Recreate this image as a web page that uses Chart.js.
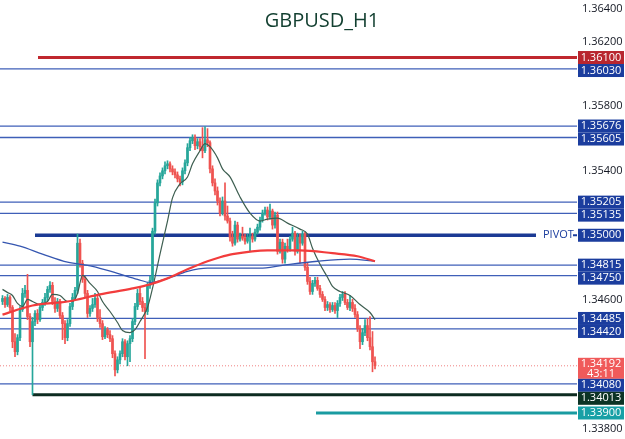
<!DOCTYPE html>
<html>
<head>
<meta charset="utf-8">
<script src="https://cdn.jsdelivr.net/npm/chart.js@4.4.1/dist/chart.umd.min.js"></script>
<style>
  html, body { margin: 0; padding: 0; background: #fff; }
  #wrap { width: 625px; height: 439px; position: relative; }
</style>
</head>
<body>
<div id="wrap"><canvas id="chart"></canvas></div>
<script>
// --- свічки GBPUSD H1 ---
const opens = [
  1.34590, 1.34609, 1.34571, 1.34615, 1.34553, 1.34341, 1.34279, 1.34366, 1.34540, 1.34640,
  1.34659, 1.34497, 1.34341, 1.34466, 1.34516, 1.34478, 1.34553, 1.34584, 1.34615, 1.34665,
  1.34690, 1.34590, 1.34547, 1.34590, 1.34503, 1.34453, 1.34366, 1.34453, 1.34559, 1.34615,
  1.34659, 1.34951, 1.34827, 1.34727, 1.34640, 1.34516, 1.34547, 1.34571, 1.34609, 1.34491,
  1.34453, 1.34372, 1.34416, 1.34385, 1.34360, 1.34267, 1.34167, 1.34229, 1.34267, 1.34341,
  1.34248, 1.34329, 1.34360, 1.34466, 1.34559, 1.34640, 1.34590, 1.34553, 1.34528, 1.34690,
  1.34721, 1.35025, 1.35200, 1.35324, 1.35367, 1.35399, 1.35430, 1.35442, 1.35411, 1.35392,
  1.35374, 1.35349, 1.35330, 1.35399, 1.35448, 1.35542, 1.35585, 1.35604, 1.35554, 1.35579,
  1.35548, 1.35523, 1.35591, 1.35573, 1.35411, 1.35324, 1.35274, 1.35212, 1.35137, 1.35212,
  1.35119, 1.35088, 1.34988, 1.34951, 1.35063, 1.34976, 1.34994, 1.34982, 1.34963, 1.34988,
  1.34994, 1.34976, 1.35019, 1.35050, 1.35094, 1.35137, 1.35156, 1.35113, 1.35150, 1.35063,
  1.35125, 1.34901, 1.34957, 1.34852, 1.34932, 1.34914, 1.34976, 1.35013, 1.34901, 1.34988,
  1.34951, 1.35007, 1.34802, 1.34714, 1.34652, 1.34702, 1.34721, 1.34671, 1.34634, 1.34603,
  1.34553, 1.34571, 1.34540, 1.34565, 1.34534, 1.34578, 1.34615, 1.34634, 1.34584, 1.34553,
  1.34584, 1.34547, 1.34509, 1.34422, 1.34341, 1.34397, 1.34441, 1.34366, 1.34310, 1.34217
];
const highs = [
  1.34627, 1.34621, 1.34634, 1.34627, 1.34565, 1.34391, 1.34385, 1.34559, 1.34671, 1.34690,
  1.34758, 1.34516, 1.34491, 1.34534, 1.34540, 1.34571, 1.34603, 1.34640, 1.34683, 1.34714,
  1.34708, 1.34615, 1.34609, 1.34603, 1.34522, 1.34472, 1.34478, 1.34578, 1.34640, 1.34677,
  1.35007, 1.34976, 1.34845, 1.34746, 1.34659, 1.34565, 1.34609, 1.34640, 1.34627, 1.34540,
  1.34472, 1.34435, 1.34429, 1.34410, 1.34379, 1.34285, 1.34248, 1.34285, 1.34360, 1.34354,
  1.34347, 1.34379, 1.34485, 1.34578, 1.34665, 1.34683, 1.34615, 1.34578, 1.34708, 1.34746,
  1.35044, 1.35224, 1.35343, 1.35386, 1.35417, 1.35454, 1.35461, 1.35454, 1.35430, 1.35411,
  1.35392, 1.35367, 1.35417, 1.35467, 1.35567, 1.35604, 1.35622, 1.35622, 1.35598, 1.35598,
  1.35666, 1.35672, 1.35660, 1.35585, 1.35430, 1.35349, 1.35299, 1.35231, 1.35237, 1.35324,
  1.35181, 1.35106, 1.35025, 1.35088, 1.35081, 1.35013, 1.35050, 1.35007, 1.35007, 1.35044,
  1.35013, 1.35038, 1.35069, 1.35113, 1.35156, 1.35175, 1.35175, 1.35193, 1.35162, 1.35144,
  1.35144, 1.34976, 1.34976, 1.34951, 1.34976, 1.34994, 1.35050, 1.35025, 1.35013, 1.35007,
  1.35025, 1.35019, 1.34827, 1.34740, 1.34721, 1.34740, 1.34740, 1.34690, 1.34652, 1.34621,
  1.34590, 1.34584, 1.34584, 1.34584, 1.34596, 1.34634, 1.34652, 1.34652, 1.34603, 1.34627,
  1.34603, 1.34571, 1.34528, 1.34441, 1.34422, 1.34478, 1.34485, 1.34497, 1.34404, 1.34248
];
const lows = [
  1.34571, 1.34553, 1.34559, 1.34534, 1.34304, 1.34248, 1.34260, 1.34347, 1.34528, 1.34615,
  1.34478, 1.34310, 1.34013, 1.34441, 1.34453, 1.34466, 1.34534, 1.34565, 1.34596, 1.34646,
  1.34571, 1.34522, 1.34528, 1.34485, 1.34354, 1.34329, 1.34347, 1.34435, 1.34540, 1.34596,
  1.34640, 1.34802, 1.34708, 1.34615, 1.34491, 1.34497, 1.34528, 1.34553, 1.34466, 1.34429,
  1.34354, 1.34360, 1.34366, 1.34341, 1.34242, 1.34130, 1.34148, 1.34204, 1.34248, 1.34229,
  1.34192, 1.34217, 1.34341, 1.34447, 1.34540, 1.34571, 1.34528, 1.34236, 1.34509, 1.34671,
  1.34702, 1.35007, 1.35181, 1.35305, 1.35349, 1.35380, 1.35411, 1.35392, 1.35374, 1.35355,
  1.35330, 1.35305, 1.35312, 1.35380, 1.35430, 1.35523, 1.35567, 1.35529, 1.35535, 1.35523,
  1.35479, 1.35511, 1.35548, 1.35386, 1.35305, 1.35249, 1.35187, 1.35119, 1.35125, 1.35094,
  1.35075, 1.34963, 1.34932, 1.34938, 1.34957, 1.34963, 1.34969, 1.34945, 1.34951, 1.34901,
  1.34957, 1.34963, 1.35007, 1.35032, 1.35081, 1.35125, 1.35094, 1.35100, 1.35038, 1.35044,
  1.34883, 1.34889, 1.34827, 1.34827, 1.34895, 1.34901, 1.34963, 1.34876, 1.34889, 1.34827,
  1.34938, 1.34783, 1.34696, 1.34634, 1.34634, 1.34683, 1.34659, 1.34615, 1.34590, 1.34534,
  1.34534, 1.34522, 1.34528, 1.34516, 1.34491, 1.34559, 1.34596, 1.34571, 1.34540, 1.34534,
  1.34528, 1.34491, 1.34404, 1.34298, 1.34323, 1.34379, 1.34347, 1.34291, 1.34155, 1.34173
];
const closes = [
  1.34609, 1.34571, 1.34615, 1.34553, 1.34341, 1.34279, 1.34366, 1.34540, 1.34640, 1.34659,
  1.34497, 1.34341, 1.34466, 1.34516, 1.34478, 1.34553, 1.34584, 1.34615, 1.34665, 1.34690,
  1.34590, 1.34547, 1.34590, 1.34503, 1.34453, 1.34366, 1.34453, 1.34559, 1.34615, 1.34659,
  1.34951, 1.34827, 1.34727, 1.34640, 1.34516, 1.34547, 1.34571, 1.34609, 1.34491, 1.34453,
  1.34372, 1.34416, 1.34385, 1.34360, 1.34267, 1.34167, 1.34229, 1.34267, 1.34341, 1.34248,
  1.34329, 1.34360, 1.34466, 1.34559, 1.34640, 1.34590, 1.34553, 1.34528, 1.34690, 1.34721,
  1.35025, 1.35200, 1.35324, 1.35367, 1.35399, 1.35430, 1.35442, 1.35411, 1.35392, 1.35374,
  1.35349, 1.35330, 1.35399, 1.35448, 1.35542, 1.35585, 1.35604, 1.35554, 1.35579, 1.35548,
  1.35523, 1.35591, 1.35573, 1.35411, 1.35324, 1.35274, 1.35212, 1.35137, 1.35212, 1.35119,
  1.35088, 1.34988, 1.34951, 1.35063, 1.34976, 1.34994, 1.34982, 1.34963, 1.34988, 1.34994,
  1.34976, 1.35019, 1.35050, 1.35094, 1.35137, 1.35156, 1.35113, 1.35150, 1.35063, 1.35125,
  1.34901, 1.34957, 1.34852, 1.34932, 1.34914, 1.34976, 1.35013, 1.34901, 1.34988, 1.34951,
  1.35007, 1.34802, 1.34714, 1.34652, 1.34702, 1.34721, 1.34671, 1.34634, 1.34603, 1.34553,
  1.34571, 1.34540, 1.34565, 1.34534, 1.34578, 1.34615, 1.34634, 1.34584, 1.34553, 1.34584,
  1.34547, 1.34509, 1.34422, 1.34341, 1.34397, 1.34441, 1.34366, 1.34310, 1.34217, 1.34192
];

// --- ковзні середні (точки за номером свічки) ---
const fastMaIdx = [0, 2, 4, 6, 8, 10, 12, 15, 18, 20, 23, 26, 28, 30, 32, 35, 38, 40, 43, 46, 48, 51, 53, 55, 58, 60,
  63, 66, 68, 71, 74, 76, 79, 81, 83, 86, 88, 91, 95, 99, 103, 106, 110, 114, 119, 122, 124, 127, 130, 132, 135, 139, 143, 147, 149];
const fastMaVal = [1.34665, 1.34646, 1.34627, 1.34578, 1.34559, 1.34603, 1.34590, 1.34571, 1.34590, 1.34634, 1.34627,
  1.34590, 1.34590, 1.34640, 1.34752, 1.34702, 1.34652, 1.34590, 1.34528, 1.34460, 1.34410, 1.34397, 1.34416, 1.34466,
  1.34553, 1.34671, 1.34883, 1.35088, 1.35231, 1.35318, 1.35361, 1.35442, 1.35523, 1.35567, 1.35548, 1.35479, 1.35411,
  1.35361, 1.35237, 1.35137, 1.35088, 1.35100, 1.35106, 1.35075, 1.35038, 1.35007, 1.34920, 1.34820, 1.34740, 1.34683,
  1.34652, 1.34627, 1.34571, 1.34522, 1.34478];
const redMaIdx = [0, 12, 26, 39, 52, 59, 66, 74, 82, 87, 92, 106, 119, 132, 142, 149];
const redMaVal = [1.34509, 1.34565, 1.34590, 1.34634, 1.34671, 1.34696, 1.34733, 1.34789, 1.34839, 1.34864, 1.34883,
  1.34907, 1.34907, 1.34889, 1.34870, 1.34839];
const blueMaIdx = [0, 7, 16, 26, 36, 46, 54, 59, 66, 74, 82, 92, 103, 112, 126, 139, 149];
const blueMaVal = [1.34957, 1.34932, 1.34883, 1.34833, 1.34808, 1.34764, 1.34727, 1.34708, 1.34733, 1.34777, 1.34796,
  1.34796, 1.34796, 1.34814, 1.34839, 1.34852, 1.34839];

// --- рівні ---
const levelPrices = [1.36100, 1.36030, 1.35676, 1.35605, 1.35205, 1.35135, 1.35000, 1.34815, 1.34750, 1.34485, 1.34420, 1.34080, 1.34013, 1.33900];
const levelKinds  = ['red', 'blue', 'blue', 'blue', 'blue', 'blue', 'pivot', 'blue', 'blue', 'blue', 'blue', 'blue', 'dark', 'teal'];
const levelFrom   = [14.2, -1, -1, -1, -1, -1, 13, -1, -1, -1, -1, -1, 12, 125.4];
const levelTo     = [229.8, 229.8, 229.8, 229.8, 229.8, 229.8, 213.4, 229.8, 229.8, 229.8, 229.8, 229.8, 229.8, 229.8];
const lastPrice = 1.34192;
const countdown = '43:11';
const tickValues = [1.338, 1.346, 1.354, 1.358, 1.362, 1.364];

const X_MIN = -1, X_MAX = 229.8;
const Y_MIN = 1.33739, Y_MAX = 1.36456;
const upColor = '#26a69a', downColor = '#ef5350';

const styles = {
  red:   { line: '#c0282e', width: 3,   box: '#b8262f' },
  blue:  { line: '#3f5fb8', width: 1.3, box: '#1b3d9e' },
  pivot: { line: '#1b3a94', width: 3.5, box: '#1b3d9e' },
  dark:  { line: '#0d2b20', width: 3,   box: '#0c3325' },
  teal:  { line: '#1a9ba1', width: 3,   box: '#17a0a6' }
};

const candleColors = closes.map((c, i) => c >= opens[i] ? upColor : downColor);

const levelSets = levelPrices.map((p, k) => ({
  type: 'line',
  data: [{ x: levelFrom[k], y: p }, { x: levelTo[k], y: p }],
  borderColor: styles[levelKinds[k]].line,
  borderWidth: styles[levelKinds[k]].width,
  pointRadius: 0,
  order: 5
}));

function maSet(idx, vals, color, width) {
  return {
    type: 'line',
    data: idx.map((i, k) => ({ x: i, y: vals[k] })),
    borderColor: color, borderWidth: width,
    pointRadius: 0, cubicInterpolationMode: 'monotone',
    order: 1
  };
}

const overlay = {
  id: 'overlay',
  afterDraw(chart) {
    const { ctx, chartArea, scales: { x, y } } = chart;
    ctx.save();
    // заголовок
    ctx.font = '20px "Open Sans"';
    ctx.fillStyle = '#123f30';
    ctx.textAlign = 'center';
    ctx.textBaseline = 'middle';
    ctx.fillText('GBPUSD_H1', 322, 21);

    // PIVOT
    const pk = levelKinds.indexOf('pivot');
    const py = y.getPixelForValue(levelPrices[pk]);
    ctx.font = '11px "Open Sans"';
    ctx.fillStyle = '#1b3d9e';
    ctx.textAlign = 'left';
    ctx.fillText('PIVOT', x.getPixelForValue(levelTo[pk]) + 7, py);
    ctx.fillRect(chartArea.right - 4, py - 1, 4, 2);

    // мітки на шкалі
    const boxes = levelPrices.map((p, k) => ({ y: y.getPixelForValue(p), text: p.toFixed(5), color: styles[levelKinds[k]].box, h: 13, up: 6.5, two: false }));
    boxes.push({ y: y.getPixelForValue(lastPrice), text: lastPrice.toFixed(5), color: '#f05a5a', h: 21, up: 8, two: true });
    boxes.sort((a, b) => a.y - b.y);
    let prevBottom = -Infinity;
    const left = chartArea.right + 1, w = 46;
    boxes.forEach(b => {
      let top = Math.max(b.y - b.up, prevBottom);
      prevBottom = top + b.h;
      ctx.fillStyle = b.color;
      ctx.fillRect(left, top, w, b.h);
      ctx.fillStyle = '#ffffff';
      ctx.textAlign = 'center';
      ctx.font = '11px "Open Sans"';
      ctx.fillText(b.text, left + w / 2, top + 6.5);
      if (b.two) ctx.fillText(countdown, left + w / 2, top + 16);
    });
    ctx.restore();
  }
};

new Chart(document.getElementById('chart'), {
  type: 'bar',
  data: {
    datasets: [
      // поточна ціна
      {
        type: 'line',
        data: [{ x: X_MIN, y: lastPrice }, { x: X_MAX, y: lastPrice }],
        borderColor: '#f08080', borderWidth: 1, borderDash: [1, 2],
        pointRadius: 0, order: 6
      },
      ...levelSets,
      {
        data: lows.map((l, i) => ({ x: i, y: [l, highs[i]] })),
        backgroundColor: candleColors, barThickness: 1, grouped: false, order: 3
      },
      {
        data: opens.map((o, i) => ({ x: i, y: [o, closes[i]] })),
        backgroundColor: candleColors, barThickness: 2, minBarLength: 1, grouped: false, order: 2
      },
      maSet(redMaIdx, redMaVal, '#f23c3c', 2.2),
      maSet(blueMaIdx, blueMaVal, '#3556b0', 1.3),
      maSet(fastMaIdx, fastMaVal, '#3d5e50', 1.2)
    ]
  },
  options: {
    responsive: true,
    maintainAspectRatio: false,
    animation: false,
    layout: { padding: 0 },
    plugins: { legend: { display: false }, tooltip: { enabled: false } },
    scales: {
      x: { type: 'linear', min: X_MIN, max: X_MAX, offset: false, display: false },
      y: {
        position: 'right',
        min: Y_MIN, max: Y_MAX,
        grid: { display: false, drawTicks: false },
        border: { display: false },
        ticks: {
          autoSkip: false, padding: 5, color: '#131722',
          font: { family: 'Open Sans', size: 11 },
          callback: v => v.toFixed(5)
        },
        afterBuildTicks: s => { s.ticks = tickValues.map(v => ({ value: v })); },
        afterFit: s => { s.width = 48; s.paddingTop = 0; s.paddingBottom = 0; }
      }
    }
  },
  plugins: [overlay]
});
</script>
</body>
</html>
